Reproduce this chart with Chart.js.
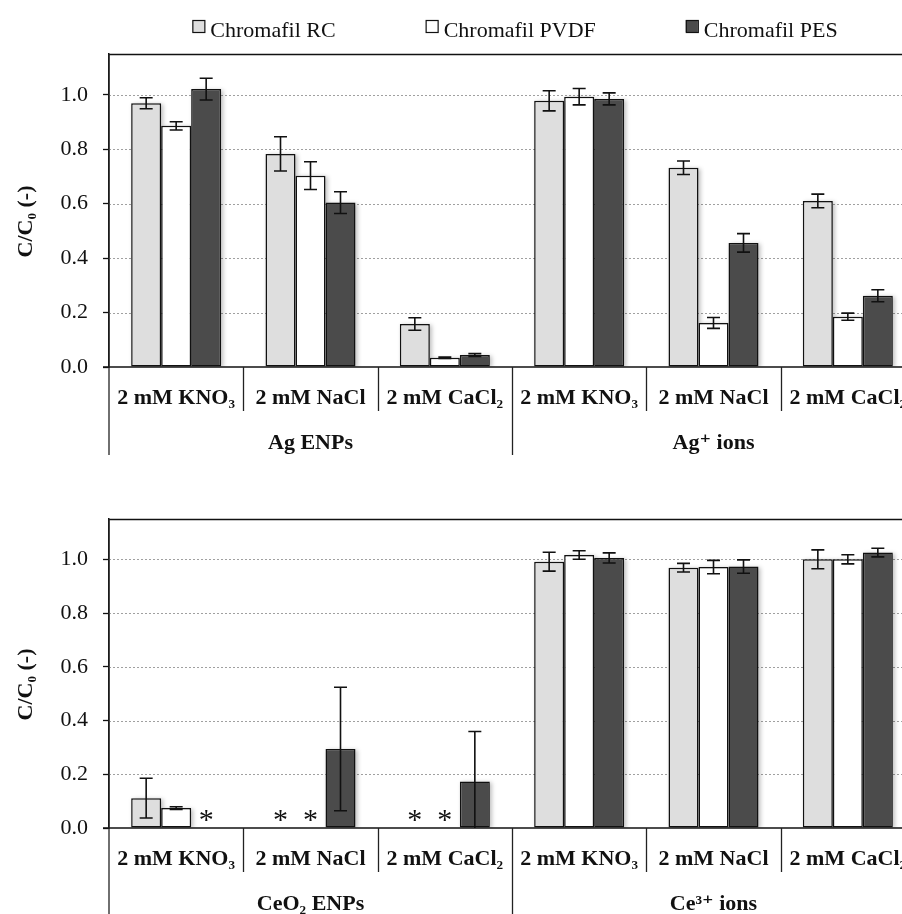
<!DOCTYPE html>
<html><head><meta charset="utf-8">
<script src="https://cdn.jsdelivr.net/npm/chart.js@4.4.0/dist/chart.umd.min.js"></script>
<style>
html,body{margin:0;padding:0;background:#fff;overflow:hidden;width:902px;height:914px;}
canvas{display:block;}
</style></head><body>
<canvas id="c1" width="920" height="460"></canvas>
<canvas id="c2" width="920" height="454"></canvas>
<script>
// ---------- data ----------
const categories = ['2 mM KNO₃', '2 mM NaCl', '2 mM CaCl₂', '2 mM KNO₃', '2 mM NaCl', '2 mM CaCl₂'];
const groupsTop = ['Ag ENPs', 'Ag⁺ ions'];
const groupsBottom = ['CeO₂ ENPs', 'Ce³⁺ ions'];
const seriesNames = ['Chromafil RC', 'Chromafil PVDF', 'Chromafil PES'];
const yAxisTitle = 'C/C₀ (-)';

const agRC   = [0.969, 0.783, 0.158, 0.978, 0.732, 0.610];
const agPVDF = [0.886, 0.703, 0.034, 0.993, 0.162, 0.185];
const agPES  = [1.021, 0.604, 0.044, 0.985, 0.456, 0.262];
const agRCerr   = [0.020, 0.063, 0.023, 0.037, 0.025, 0.025];
const agPVDFerr = [0.015, 0.051, 0.003, 0.030, 0.020, 0.013];
const agPESerr  = [0.040, 0.040, 0.005, 0.022, 0.034, 0.022];

// null = below detection (shown as *)
const ceRC   = [0.111, null, null, 0.991, 0.969, 1.000];
const cePVDF = [0.074, null, null, 1.016, 0.971, 1.000];
const cePES  = [null, 0.294, 0.173, 1.005, 0.973, 1.025];
const ceRCerr   = [0.074, 0, 0, 0.035, 0.016, 0.035];
const cePVDFerr = [0.005, 0, 0, 0.016, 0.025, 0.017];
const cePESerr  = [0, 0.230, 0.186, 0.019, 0.025, 0.016];

// ---------- style ----------
const FONT = '"Liberation Serif", "DejaVu Serif", serif';
const COLORS = ['#dedede', '#ffffff', '#4b4b4b'];
const INK = '#111111';

function makeChart(id, series, errs, groups, topPad, xHeight, showLegend) {
  const canvas = document.getElementById(id);
  const plugin = {
    id: 'custom_' + id,
    beforeDatasetsDraw(chart) {
      const {ctx, chartArea: a, scales: {y}} = chart;
      ctx.save();
      ctx.strokeStyle = '#a0a0a0'; ctx.lineWidth = 1; ctx.setLineDash([2, 2]);
      y.ticks.forEach(t => {
        if (t.value <= 0 || Math.round(t.value * 10) % 2 !== 0) return;
        const py = Math.round(y.getPixelForValue(t.value)) + 0.5;
        ctx.beginPath(); ctx.moveTo(a.left, py); ctx.lineTo(a.right, py); ctx.stroke();
      });
      ctx.setLineDash([]);
      ctx.beginPath(); ctx.rect(a.left, a.top, a.right - a.left, a.bottom - a.top); ctx.clip();
      ctx.filter = 'blur(2px)';
      ctx.fillStyle = 'rgba(0,0,0,0.25)';
      chart.data.datasets.forEach((ds, di) => {
        chart.getDatasetMeta(di).data.forEach((el, i) => {
          if (ds.data[i] == null) return;
          const p = el.getProps(['x', 'y', 'base', 'width'], true);
          ctx.fillRect(p.x - p.width / 2 + 2, p.y + 1, p.width, p.base - p.y);
        });
      });
      ctx.restore();
    },
    afterDatasetsDraw(chart) {
      const {ctx, chartArea: a, scales: {y}} = chart;
      ctx.save();
      chart.data.datasets.forEach((ds, di) => {
        const meta = chart.getDatasetMeta(di);
        meta.data.forEach((el, i) => {
          const v = ds.data[i];
          const x = el.x;
          if (v == null) {
            ctx.fillStyle = INK;
            ctx.font = '30px ' + FONT;
            ctx.textAlign = 'center'; ctx.textBaseline = 'alphabetic';
            ctx.fillText('*', x, a.bottom + 1);
            return;
          }
          const e = errs[di][i];
          if (!e) return;
          const yt = y.getPixelForValue(v + e);
          const lowV = v - e;
          const yb = y.getPixelForValue(Math.max(lowV, 0));
          ctx.strokeStyle = INK; ctx.lineWidth = 1.6;
          ctx.beginPath();
          ctx.moveTo(x, yt); ctx.lineTo(x, yb);
          ctx.moveTo(x - 6.5, yt); ctx.lineTo(x + 6.5, yt);
          if (lowV >= 0) { ctx.moveTo(x - 6.5, yb); ctx.lineTo(x + 6.5, yb); }
          ctx.stroke();
        });
      });
      ctx.restore();
    },
    afterDraw(chart) {
      const {ctx, chartArea: a, scales: {x}} = chart;
      const H = chart.height;
      ctx.save();
      ctx.strokeStyle = INK; ctx.lineWidth = 1.5;
      // top border
      ctx.beginPath(); ctx.moveTo(a.left, a.top + 0.5); ctx.lineTo(a.right, a.top + 0.5); ctx.stroke();
      // zero line
      ctx.beginPath(); ctx.moveTo(a.left - 6, a.bottom); ctx.lineTo(a.right, a.bottom); ctx.stroke();
      // left axis extension & separators
      ctx.lineWidth = 1.3; ctx.strokeStyle = '#222';
      ctx.beginPath(); ctx.moveTo(a.left, a.top); ctx.lineTo(a.left, Math.min(a.bottom + 88, H)); ctx.stroke();
      const n = chart.data.labels.length;
      for (let i = 0; i < n - 1; i++) {
        const px = Math.round(x.getPixelForValue(i + 0.5)) + 0.5;
        const isGroup = (i + 1) === n / 2;
        ctx.beginPath(); ctx.moveTo(px, a.bottom);
        ctx.lineTo(px, isGroup ? Math.min(a.bottom + 88, H) : a.bottom + 44);
        ctx.stroke();
      }
      // category labels
      ctx.fillStyle = INK;
      ctx.textAlign = 'center'; ctx.textBaseline = 'middle';
      ctx.font = 'bold 22px ' + FONT;
      chart.data.labels.forEach((lab, i) => {
        ctx.fillText(lab, x.getPixelForValue(i), a.bottom + 31);
      });
      // group labels
      groups.forEach((g, gi) => {
        const c = x.getPixelForValue(gi * n / 2 + (n / 2 - 1) / 2);
        ctx.fillText(g, c, a.bottom + 76);
      });
      // y-axis title
      ctx.save();
      ctx.translate(26, (a.top + a.bottom) / 2 + 11);
      ctx.rotate(-Math.PI / 2);
      ctx.font = 'bold 22px ' + FONT;
      ctx.fillText(yAxisTitle, 0, 0);
      ctx.restore();
      // legend
      if (showLegend) {
        ctx.font = '22px ' + FONT;
        ctx.textAlign = 'left'; ctx.textBaseline = 'alphabetic';
        const box = 12, boxGap = 6, gap = 90;
        const widths = seriesNames.map(s => box + boxGap + ctx.measureText(s).width);
        const total = widths.reduce((p, c) => p + c, 0) + gap * (widths.length - 1);
        let sx = (a.left + a.right) / 2 - total / 2 + 3;
        seriesNames.forEach((s, i) => {
          ctx.fillStyle = COLORS[i];
          ctx.fillRect(sx, 20, box, box);
          ctx.lineWidth = 1.2; ctx.strokeStyle = INK;
          ctx.strokeRect(sx + 0.5, 20.5, box, box);
          ctx.fillStyle = INK;
          ctx.fillText(s, sx + box + boxGap, 37);
          sx += widths[i] + gap;
        });
      }
      ctx.restore();
    }
  };

  return new Chart(canvas, {
    type: 'bar',
    data: {
      labels: categories,
      datasets: series.map((d, i) => ({
        label: seriesNames[i],
        data: d,
        backgroundColor: COLORS[i],
        borderColor: INK,
        borderWidth: 1.5,
        borderSkipped: false,
        categoryPercentage: 0.67,
        barPercentage: 1.0
      }))
    },
    options: {
      responsive: false,
      animation: false,
      devicePixelRatio: 1,
      layout: { autoPadding: false, padding: { top: topPad, left: 0, right: 5, bottom: 0 } },
      plugins: { legend: { display: false }, tooltip: { enabled: false } },
      scales: {
        x: {
          type: 'category',
          offset: true,
          grid: { display: false },
          ticks: { display: false },
          border: { display: false },
          afterFit(s) { s.height = xHeight; }
        },
        y: {
          min: 0, max: 1.15,
          afterFit(s) { s.width = 109; },
          ticks: {
            stepSize: 0.1,
            includeBounds: false,
            padding: 15,
            color: INK,
            font: { family: FONT, size: 22 },
            callback: (v) => (Math.round(v * 10) % 2 === 0 ? v.toFixed(1) : '')
          },
          grid: { drawOnChartArea: false, drawTicks: true, tickLength: 6, tickColor: INK, tickWidth: 1.3 },
          border: { display: true, color: INK, width: 1.5 }
        }
      }
    },
    plugins: [plugin]
  });
}

makeChart('c1', [agRC, agPVDF, agPES], [agRCerr, agPVDFerr, agPESerr], groupsTop, 54, 93, true);
makeChart('c2', [ceRC, cePVDF, cePES], [ceRCerr, cePVDFerr, cePESerr], groupsBottom, 59, 86, false);
</script>
</body></html>
